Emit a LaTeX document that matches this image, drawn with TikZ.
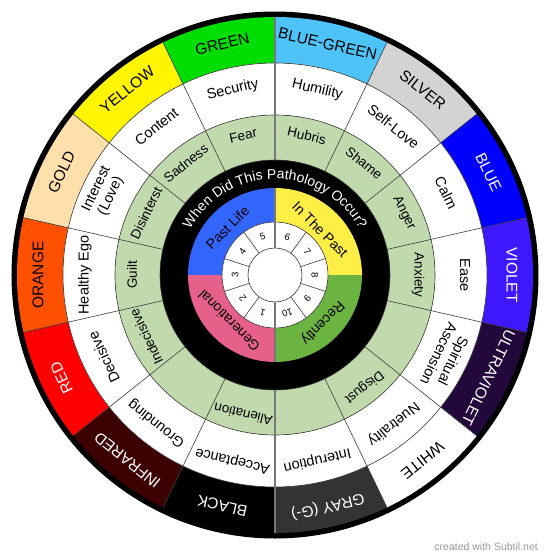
\documentclass[tikz,border=0pt]{standalone}
\usepackage{fontspec}
\setmainfont{Liberation Sans}
\usetikzlibrary{decorations.text}
\definecolor{cGreen}{RGB}{0,221,0}
\definecolor{cBlueGreen}{RGB}{77,195,250}
\definecolor{cSilver}{RGB}{211,211,211}
\definecolor{cBlue}{RGB}{0,0,255}
\definecolor{cViolet}{RGB}{64,24,255}
\definecolor{cUltra}{RGB}{35,8,60}
\definecolor{cWhite}{RGB}{255,255,255}
\definecolor{cGray}{RGB}{51,51,51}
\definecolor{cBlack}{RGB}{0,0,0}
\definecolor{cInfra}{RGB}{60,0,0}
\definecolor{cRed}{RGB}{255,0,0}
\definecolor{cOrange}{RGB}{255,80,0}
\definecolor{cGold}{RGB}{255,224,170}
\definecolor{cYellow}{RGB}{255,245,0}
\definecolor{cRing}{RGB}{193,218,173}
\definecolor{qBlue}{RGB}{51,102,255}
\definecolor{qYellow}{RGB}{255,238,70}
\definecolor{qGreen}{RGB}{108,180,65}
\definecolor{qPink}{RGB}{230,96,138}
\definecolor{sepCol}{RGB}{60,60,60}
\definecolor{axisCol}{RGB}{120,120,120}
\begin{document}
\begin{tikzpicture}[x=1pt,y=1pt,
  sepline/.style={draw=sepCol, line width=0.6pt},
  axisline/.style={draw=axisCol, line width=1.3pt},
  bandlabel/.style={font=\fontsize{15.5}{17}\selectfont, align=center, inner sep=0pt},
  ringlabel/.style={font=\fontsize{14.5}{16}\selectfont, align=center, inner sep=0pt, text=black},
  greenlabel/.style={font=\fontsize{13.5}{15}\selectfont, align=center, inner sep=0pt, text=black},
  quadlabel/.style={font=\fontsize{14}{15}\selectfont, inner sep=0pt, text=black},
  numlabel/.style={font=\fontsize{9.5}{10}\selectfont, inner sep=0pt, text=black}]
\useasboundingbox (-275,-283) rectangle (275,275);
\fill[white] (-275,-283) rectangle (275,275);
% outer black rim
\fill[black] (0,0) circle (263.5pt);
% colour band
\foreach \c/\t/\tc [count=\i from 0] in {cBlueGreen/BLUE-GREEN/black, cSilver/SILVER/black, cBlue/BLUE/white, cViolet/VIOLET/white, cUltra/ULTRAVIOLET/white, cWhite/WHITE/black, cGray/GRAY (G-)/white, cBlack/BLACK/white, cInfra/INFRARED/white, cRed/RED/white, cOrange/ORANGE/black, cGold/GOLD/black, cYellow/YELLOW/black, cGreen/GREEN/black} {
  \pgfmathsetmacro\sa{90-\i*360/14}
  \pgfmathsetmacro\ea{90-(\i+1)*360/14}
  \pgfmathsetmacro\ma{90-(\i+0.5)*360/14}
  \fill[\c] (\sa:212pt) -- (\sa:258pt) arc[start angle=\sa, end angle=\ea, radius=258pt] -- (\ea:212pt) arc[start angle=\ea, end angle=\sa, radius=212pt] -- cycle;
  \node[bandlabel, text=\tc, rotate=\ma-90] (b\i) at (\ma:237pt) {\t};
}
% white ring
\fill[white, even odd rule] (0,0) circle (212pt) circle (160pt);
% green ring
\fill[cRing, even odd rule] (0,0) circle (160pt) circle (115pt);
% black ring
\fill[black, even odd rule] (0,0) circle (115pt) circle (87pt);
% quadrants
\fill[qYellow] (0:53pt) -- (0:87pt) arc[start angle=0, end angle=90, radius=87pt] -- (90:53pt) arc[start angle=90, end angle=0, radius=53pt] -- cycle;
\fill[qBlue] (90:53pt) -- (90:87pt) arc[start angle=90, end angle=180, radius=87pt] -- (180:53pt) arc[start angle=180, end angle=90, radius=53pt] -- cycle;
\fill[qPink] (180:53pt) -- (180:87pt) arc[start angle=180, end angle=270, radius=87pt] -- (270:53pt) arc[start angle=270, end angle=180, radius=53pt] -- cycle;
\fill[qGreen] (270:53pt) -- (270:87pt) arc[start angle=270, end angle=360, radius=87pt] -- (360:53pt) arc[start angle=360, end angle=270, radius=53pt] -- cycle;
% number ring and centre
\fill[white] (0,0) circle (53pt);
% ring outlines
\draw[sepline] (0,0) circle (212pt);
\draw[sepline] (0,0) circle (160pt);
\draw[sepline] (0,0) circle (115pt);
\draw[sepline] (0,0) circle (53pt);
\draw[sepline] (0,0) circle (27pt);
% radial separators of outer rings
\foreach \i in {1,...,6,8,9,...,13} {
  \pgfmathsetmacro\sa{90-\i*360/14}
  \draw[sepline] (\sa:115pt) -- (\sa:258pt);
}
% radial separators of number ring
\foreach \k in {1,2,3,4,6,7,8,9} {
  \draw[sepline] (90-36*\k:27pt) -- (90-36*\k:53pt);
}
% vertical axis
\draw[axisline] (90:115pt) -- (90:258pt);
\draw[axisline] (270:115pt) -- (270:258pt);
\draw[axisline] (90:27pt) -- (90:87pt);
\draw[axisline] (270:27pt) -- (270:87pt);
% white ring labels
\foreach \i/\t in {0/Humility, 1/Self-Love, 2/Calm, 3/Ease, 4/{Spiritual\\Ascension}, 5/Nuetrality, 6/Interuption, 7/Acceptance, 8/Grounding, 9/Decisive, 10/Healthy Ego, 11/{Interest\\(Love)}, 12/Content, 13/Security} {
  \pgfmathsetmacro\ma{90-(\i+0.5)*360/14}
  \node[ringlabel, rotate=\ma-90] (w\i) at (\ma:190pt) {\t};
}
% green ring labels
\foreach \i/\t in {0/Hubris, 1/Shame, 2/Anger, 3/Anxiety, 5/Disgust, 7/Alienation, 9/Indecisive, 10/Guilt, 11/Disinterst, 12/Sadness, 13/Fear} {
  \pgfmathsetmacro\ma{90-(\i+0.5)*360/14}
  \node[greenlabel, rotate=\ma-90] (g\i) at (\ma:143pt) {\t};
}
% black ring curved text
\path[decorate, decoration={text along path, text align=center, text={|\fontsize{14}{15}\selectfont\color{white}|When Did This Pathology Occur?}}] (152:96pt) arc[start angle=152, end angle=28, radius=96pt];
% quadrant labels
\node[quadlabel, rotate=45] (q1) at (135:67pt) {Past Life};
\node[quadlabel, rotate=-45] (q2) at (45:64pt) {In The Past};
\node[quadlabel, rotate=-135] (q3) at (-45:67pt) {Recently};
\node[quadlabel, rotate=135] (q4) at (225:65pt) {Generational};
% numbers
\foreach \n [count=\k from 0] in {6,7,8,9,10,1,2,3,4,5} {
  \pgfmathsetmacro\na{72-36*\k}
  \node[numlabel, rotate=\na-90] (n\n) at (\na:40pt) {\n};
}
% watermark
\node[anchor=east, inner sep=0pt, font=\fontsize{10.5}{12}\selectfont, text=black!40] (wm) at (263,-272) {created with Subtil.net};
\end{tikzpicture}
\end{document}
